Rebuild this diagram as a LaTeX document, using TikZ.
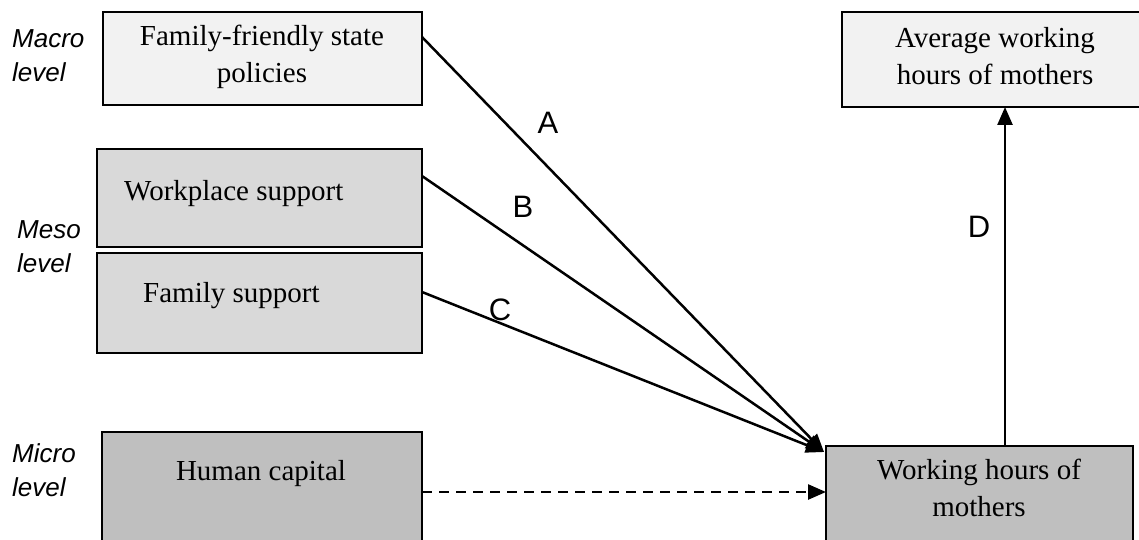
\documentclass[tikz,border=0pt]{standalone}
\usepackage{fontspec}
\setmainfont{Liberation Serif}
\setsansfont{Liberation Sans}
\usetikzlibrary{arrows.meta,calc}
\definecolor{lightbox}{HTML}{F2F2F2}
\definecolor{midbox}{HTML}{D9D9D9}
\definecolor{darkbox}{HTML}{BFBFBF}
\tikzset{
  boxshape/.style={draw=black, line width=2.5pt, rectangle, inner sep=0pt, outer sep=0pt, anchor=north west},
  boxtext/.style={font=\fontsize{29}{37}\selectfont\rmfamily, inner sep=0pt, align=center},
  levellab/.style={font=\fontsize{26}{34}\selectfont\sffamily\itshape, inner sep=0pt, align=left, anchor=north west},
  pathlab/.style={font=\fontsize{31}{34}\selectfont\sffamily, inner sep=0pt, anchor=base},
  conn/.style={line width=2.5pt, -{Triangle[length=18pt,width=15pt]}},
  dashconn/.style={conn, dash pattern=on 10pt off 7pt},
}
\begin{document}
\begin{tikzpicture}[x=1pt,y=-1pt]
\useasboundingbox (0,0) rectangle (1139,540);
\clip (0,0) rectangle (1139,540);

% boxes
\node[boxshape, fill=lightbox, minimum width=319pt, minimum height=93pt] (pol) at (103,12) {};
\node[boxshape, fill=midbox, minimum width=325pt, minimum height=98pt] (wps) at (97,149) {};
\node[boxshape, fill=midbox, minimum width=325pt, minimum height=100pt] (fam) at (97,253) {};
\node[boxshape, fill=darkbox, minimum width=320pt, minimum height=130pt] (hum) at (102,432) {};
\node[boxshape, fill=darkbox, minimum width=307pt, minimum height=130pt] (work) at (826,446) {};
\node[boxshape, fill=lightbox, minimum width=320pt, minimum height=95pt] (avg) at (842,12) {};

% box texts
\node[boxtext, anchor=north] (polt) at (262,25) {Family-friendly state\\policies};
\node[boxtext, anchor=base west] (wpst) at (124,200) {Workplace support};
\node[boxtext, anchor=base west] (famt) at (143,302) {Family support};
\node[boxtext, anchor=base] (humt) at (261,480) {Human capital};
\node[boxtext, anchor=north] (workt) at (979,459) {Working hours of\\mothers};
\node[boxtext, anchor=north] (avgt) at (995,27) {Average working\\hours of mothers};

% level labels
\node[levellab] (macro) at (12,29) {Macro\\level};
\node[levellab] (meso) at (17,220) {Meso\\level};
\node[levellab] (micro) at (12,443) {Micro\\level};

% connectors
\coordinate (tip) at ($(work.north west)+(-2,6)$);
\draw[conn] ($(pol.north east)+(0,25)$) -- (tip);
\draw[conn] ($(wps.north east)+(0,27)$) -- (tip);
\draw[conn] ($(fam.north east)+(0,39)$) -- (tip);
\draw[dashconn] ($(hum.north east)+(0,60)$) -- ($(work.north west)+(0,46)$);
\draw[conn] ($(work.north west)+(179,0)$) -- ($(avg.south west)+(163,0)$);

% path labels
\node[pathlab] (la) at (548,134) {A};
\node[pathlab] (lb) at (523,217) {B};
\node[pathlab] (lc) at (500,320) {C};
\node[pathlab] (ld) at (979,237) {D};
\end{tikzpicture}
\end{document}
